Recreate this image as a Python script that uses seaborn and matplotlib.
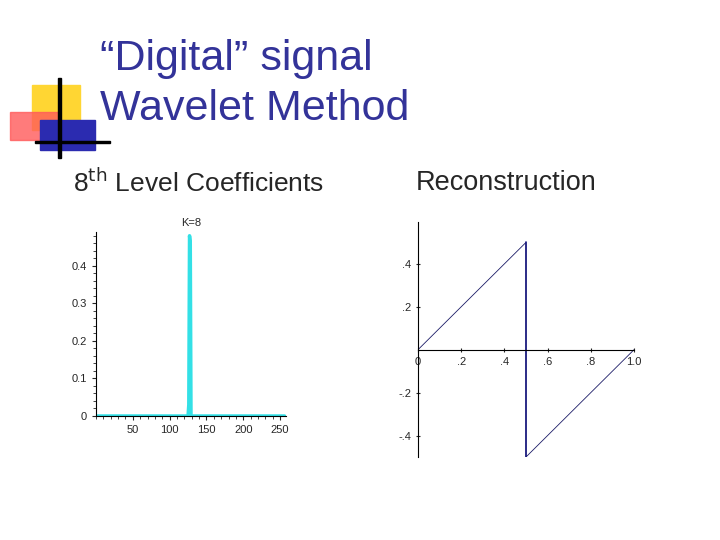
import numpy as np
import pandas as pd
from matplotlib import pyplot as plt
from matplotlib.patches import Rectangle
import seaborn as sns

# level 8 coefficients: zero everywhere except one spike
coef_index = list(range(1, 257))
coef_values = [0.0] * 256
coef_values[125] = 0.03
coef_values[126] = 0.48
coef_values[127] = 0.46

# reconstructed sawtooth
recon_x = [0.0, 0.5, 0.5, 1.0]
recon_y = [0.0, 0.5, -0.5, 0.0]

sns.set_style("white")
plt.rcParams['font.family'] = ['Liberation Sans', 'DejaVu Sans']

fig = plt.figure(figsize=(7.2, 5.4), dpi=100)

# slide decoration
def px(x0, y0, x1, y1, **kw):
    fig.patches.append(Rectangle((x0 / 720, 1 - y1 / 540), (x1 - x0) / 720, (y1 - y0) / 540,
                                 transform=fig.transFigure, figure=fig, **kw))

px(32, 85, 80, 130, color="#ffd633", zorder=0)
px(10, 112, 60, 140, color="#ff5a5a", alpha=0.8, zorder=1)
px(40, 120, 95, 150, color="#2b2bb0", zorder=2)
px(58, 78, 61, 158, color="black", zorder=3)
px(35, 141, 110, 143, color="black", zorder=3)

fig.text(100 / 720, 1 - 84 / 540, "“Digital” signal\nWavelet Method", color="#333399",
         fontsize=31, va="center", ha="left", linespacing=1.35)
fig.text(73 / 720, 1 - 183 / 540, "8$^{\\rm th}$ Level Coefficients", fontsize=19, va="center")
fig.text(416 / 720, 1 - 183 / 540, "Reconstruction", fontsize=19.5, va="center")

# left: coefficients
ax1 = fig.add_axes([96 / 720, 1 - 416 / 540, 190 / 720, 184 / 540])
df1 = pd.DataFrame({"n": coef_index, "c": coef_values})
sns.lineplot(data=df1, x="n", y="c", ax=ax1, color="#33e0e6", linewidth=2.5)
ax1.set_xlim(0, 258)
ax1.set_ylim(0, 0.49)
ax1.set_xticks([50, 100, 150, 200, 250])
ax1.set_yticks([0, 0.1, 0.2, 0.3, 0.4])
ax1.set_yticklabels(["0", "0.1", "0.2", "0.3", "0.4"])
ax1.set_xlabel("")
ax1.set_ylabel("")
ax1.set_title("K=8", fontsize=8, pad=4)
for s in ["top", "right"]:
    ax1.spines[s].set_visible(False)
for s in ["left", "bottom"]:
    ax1.spines[s].set_color("black")
ax1.tick_params(labelsize=8, length=3, direction="out", left=True, bottom=True)
ax1.minorticks_on()
ax1.tick_params(which="minor", length=2, left=True, bottom=True)

# right: reconstruction
ax2 = fig.add_axes([418 / 720, 1 - 457 / 540, 216 / 720, 235 / 540])
df2 = pd.DataFrame({"x": recon_x, "y": recon_y})
sns.lineplot(data=df2, x="x", y="y", ax=ax2, sort=False, estimator=None,
             color="#1a1a66", linewidth=0.6)
ax2.plot([0.5, 0.5], [-0.5, 0.5], color="#1a1a80", linewidth=1.2)
ax2.set_xlim(0, 1.0)
ax2.set_ylim(-0.5, 0.595)
ax2.spines["left"].set_position(("data", 0))
ax2.spines["bottom"].set_position(("data", 0))
ax2.spines["top"].set_visible(False)
ax2.spines["right"].set_visible(False)
for s in ["left", "bottom"]:
    ax2.spines[s].set_color("black")
ax2.set_xticks([0, 0.2, 0.4, 0.6, 0.8, 1.0])
ax2.set_xticklabels(["0", ".2", ".4", ".6", ".8", "1.0"])
ax2.set_yticks([-0.4, -0.2, 0.2, 0.4])
ax2.set_yticklabels(["-.4", "-.2", ".2", ".4"])
ax2.set_xlabel("")
ax2.set_ylabel("")
ax2.tick_params(labelsize=8, length=3, direction="inout", left=True, bottom=True)

fig.savefig("out.png", dpi=100)
